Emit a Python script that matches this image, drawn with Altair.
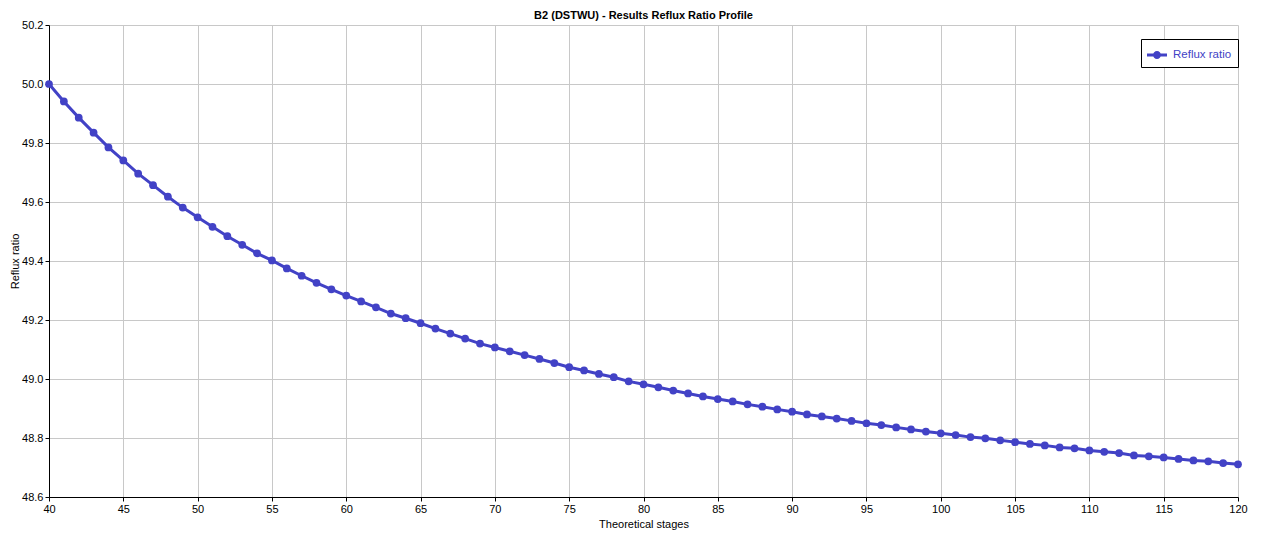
import altair as alt
import pandas as pd

stages = list(range(40, 121))
reflux = [
    50.000, 49.941, 49.886, 49.835, 49.785, 49.741, 49.696, 49.657, 49.618, 49.581,
    49.548, 49.516, 49.484, 49.455, 49.426, 49.402, 49.375, 49.350, 49.326, 49.304,
    49.283, 49.263, 49.243, 49.222, 49.206, 49.189, 49.171, 49.154, 49.137, 49.120,
    49.107, 49.094, 49.081, 49.068, 49.054, 49.040, 49.029, 49.017, 49.006, 48.992,
    48.982, 48.972, 48.961, 48.951, 48.941, 48.932, 48.924, 48.914, 48.906, 48.897,
    48.889, 48.880, 48.873, 48.866, 48.858, 48.850, 48.844, 48.836, 48.829, 48.822,
    48.816, 48.810, 48.803, 48.799, 48.792, 48.786, 48.780, 48.775, 48.768, 48.765,
    48.758, 48.753, 48.749, 48.741, 48.738, 48.734, 48.729, 48.724, 48.721, 48.715,
    48.711,
]
series_name = "Reflux ratio"
x_ticks = list(range(40, 121, 5))
y_ticks = [48.6, 48.8, 49.0, 49.2, 49.4, 49.6, 49.8, 50.0, 50.2]

df = pd.DataFrame({"stage": stages, "reflux": reflux, "series": series_name})

COLOR = "#4242c6"
FONT = "Liberation Sans"

legend_symbol = (
    "M-1,-0.15L1,-0.15L1,0.15L-1,0.15Z "
    "M0.4,0A0.4,0.4,0,1,1,-0.4,0A0.4,0.4,0,1,1,0.4,0Z"
)

x_enc = alt.X(
    "stage:Q",
    scale=alt.Scale(domain=[40, 120], nice=False, zero=False),
    axis=alt.Axis(values=x_ticks, format="d", title="Theoretical stages",
                  titlePadding=4, labelPadding=2),
)
y_enc = alt.Y(
    "reflux:Q",
    scale=alt.Scale(domain=[48.6, 50.2], nice=False, zero=False),
    axis=alt.Axis(values=y_ticks, format=".1f", title="Reflux ratio",
                  titlePadding=1, labelPadding=2),
)
color_enc = alt.Color(
    "series:N",
    scale=alt.Scale(domain=[series_name], range=[COLOR]),
    legend=alt.Legend(
        title=None,
        orient="none",
        legendX=1092,
        legendY=14,
        symbolType=legend_symbol,
        symbolSize=400,
        symbolFillColor=COLOR,
        symbolStrokeWidth=0,
        labelColor=COLOR,
        labelFont=FONT,
        labelFontSize=11.5,
        strokeColor="black",
        fillColor="white",
        padding=6,
        labelOffset=6,
    ),
)

line = alt.Chart(df).mark_line(strokeWidth=3, color=COLOR).encode(
    x=x_enc, y=y_enc, color=color_enc
)
points = alt.Chart(df).mark_circle(size=60, opacity=1, color=COLOR).encode(
    x=x_enc, y=y_enc, color=color_enc
)

chart = (
    alt.layer(line, points)
    .properties(
        width=1189,
        height=472,
        title=alt.TitleParams(
            "B2 (DSTWU) - Results Reflux Ratio Profile",
            font=FONT, fontSize=11, fontWeight="bold", color="black",
            anchor="middle", frame="group", offset=-2,
        ),
        autosize=alt.AutoSizeParams(type="none"),
        padding={"left": 41, "top": 17, "right": 15, "bottom": 39},
    )
    .configure_view(stroke=None)
    .configure_axis(
        labelFont=FONT, labelFontSize=11, labelColor="black",
        titleFont=FONT, titleFontSize=11, titleFontWeight="normal", titleColor="black",
        domainColor="black", domainWidth=1,
        tickColor="black", tickSize=4, tickWidth=1,
        gridColor="#c8c8c8", gridWidth=1, gridOpacity=1,
        labelFlush=False,
    )
)

chart.save("out.html", embed_options={"renderer": "svg", "actions": False})
